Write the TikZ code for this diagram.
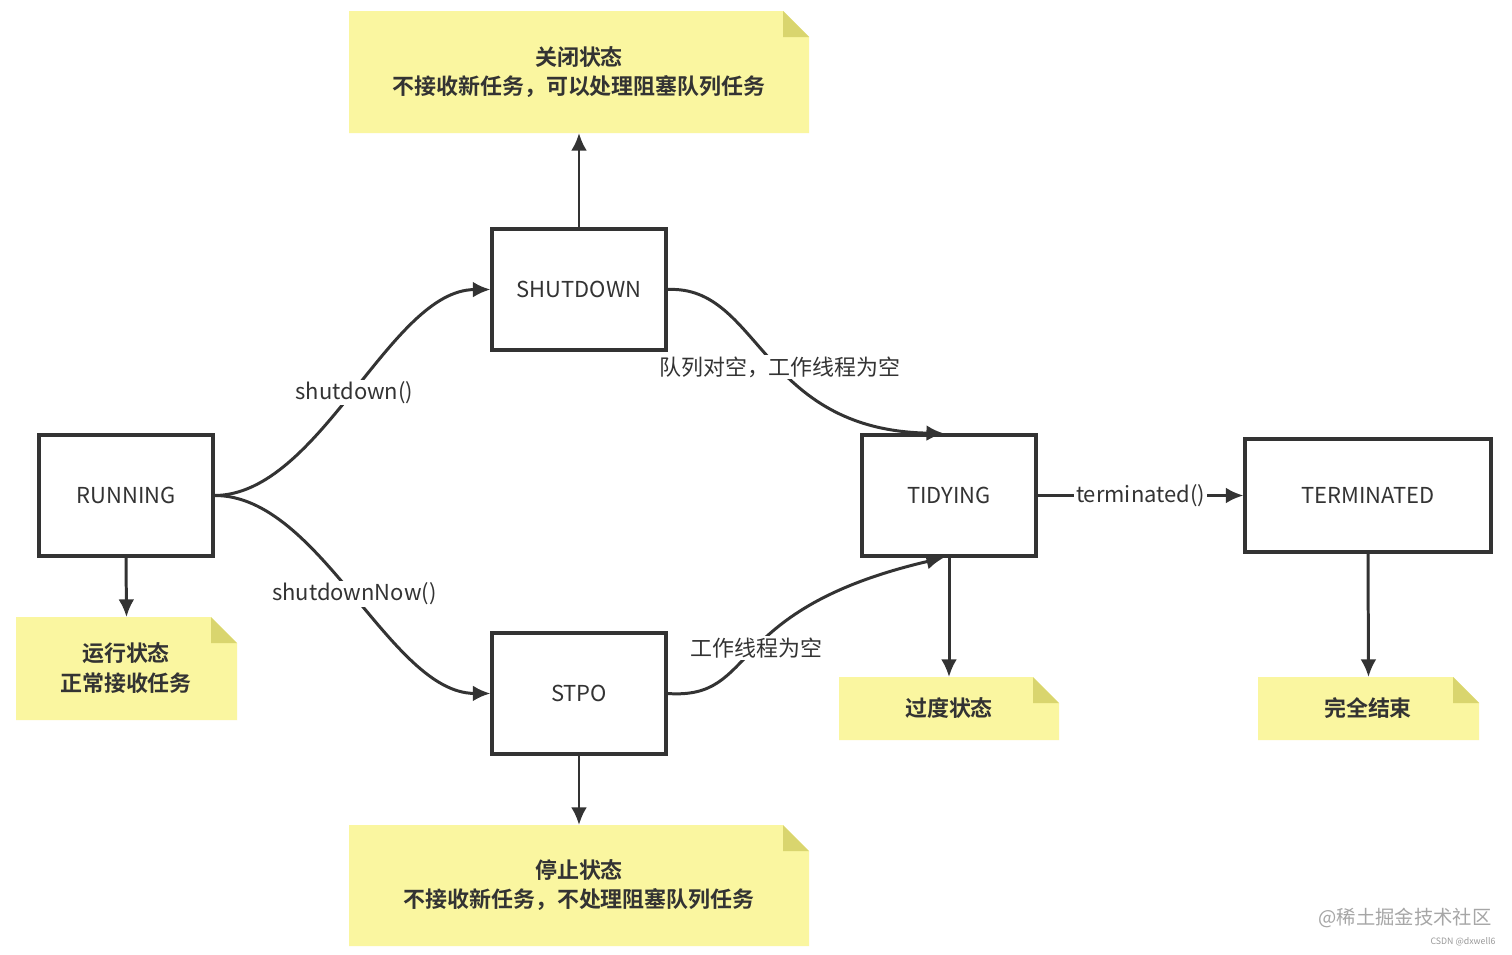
\documentclass[tikz,border=0pt]{standalone}
\usepackage{fontspec}
\setmainfont{Noto Sans CJK SC}
\newfontfamily\cjkb{Noto Sans CJK SC Bold}
\usetikzlibrary{arrows.meta}
\definecolor{notey}{HTML}{FAF6A0}
\definecolor{foldy}{HTML}{D9D56E}
\definecolor{ln}{HTML}{333333}
\begin{document}
\begin{tikzpicture}[x=0.02cm,y=-0.02cm,
  st/.style={draw=ln,line width=1.8pt,fill=white,minimum width=3.48cm,minimum height=2.42cm,font=\fontsize{12.5}{14}\selectfont,text=ln},
  ar/.style={draw=ln,line width=1.7pt,-{Latex[length=10pt,width=9pt]}},
  lbl/.style={fill=white,inner sep=1pt,font=\fontsize{12.5}{14}\selectfont,text=ln},
  txt/.style={font=\cjkb\fontsize{12.5}{17}\selectfont,align=center,text=ln}]
\useasboundingbox (0,0) rectangle (1512,954);
\fill[white] (0,0) rectangle (1512,954);
% notes
\newcommand{\mynote}[5]{%
 \fill[notey] (#1,#2) -- (#3-26,#2) -- (#3,#2+26) -- (#3,#4) -- (#1,#4) -- cycle;
 \fill[foldy] (#3-26,#2) -- (#3,#2+26) -- (#3-26,#2+26) -- cycle;
 \coordinate (#5) at ({(#1+#3)/2},#2);
 \coordinate (#5b) at ({(#1+#3)/2},#4);}
\mynote{349}{11}{809}{133}{ntop}
\mynote{16}{617}{237}{720}{nrun}
\mynote{349}{825}{809}{946}{nbot}
\mynote{839}{677}{1059}{740}{ntid}
\mynote{1258}{677}{1479}{740}{nter}
\node[txt] (t1) at (579,72) {关闭状态\\不接收新任务，可以处理阻塞队列任务};
\node[txt] (t2) at (126,668) {运行状态\\正常接收任务};
\node[txt] (t3) at (579,885) {停止状态\\不接收新任务，不处理阻塞队列任务};
\node[txt] (t4) at (949,708) {过度状态};
\node[txt] (t5) at (1368,708) {完全结束};
% states
\node[st] (run) at (126,495.5) {RUNNING};
\node[st] (sd) at (579,289.5) {SHUTDOWN};
\node[st] (stp) at (579,693.5) {STPO};
\node[st] (tid) at (949,495.5) {TIDYING};
\node[st,minimum width=4.92cm,minimum height=2.26cm] (ter) at (1368,495.5) {TERMINATED};
% arrows
\draw[ar] (run.east) .. controls (320,495) and (390,290) .. (sd.west)
  node[lbl,pos=0.5] {shutdown()};
\draw[ar] (run.east) .. controls (320,495) and (390,693) .. (stp.west)
  node[lbl,pos=0.5] {shutdownNow()};
\draw[ar] (sd.east) .. controls (760,285) and (760,430) .. ([xshift=-0.1cm]tid.north)
  node[lbl,pos=0.54] {队列对空，工作线程为空};
\draw[ar] (stp.east) .. controls (760,700) and (720,610) .. ([xshift=-0.1cm]tid.south)
  node[lbl,pos=0.5] {工作线程为空};
\draw[ar] (tid.east) -- (ter.west) node[lbl,midway] {terminated()};
\draw[ar] (run.south) -- (nrun);
\draw[ar] (sd.north) -- (ntopb);
\draw[ar] (stp.south) -- (nbot);
\draw[ar] (tid.south) -- (ntid);
\draw[ar] (ter.south) -- (nter);
\node[text=gray!70,font=\fontsize{11}{13}\selectfont] (wm) at (1405,918) {@稀土掘金技术社区};
\node[text=gray!80,font=\fontsize{5}{6}\selectfont] (wm2) at (1463,942) {CSDN @dxwell6};
\end{tikzpicture}
\end{document}
